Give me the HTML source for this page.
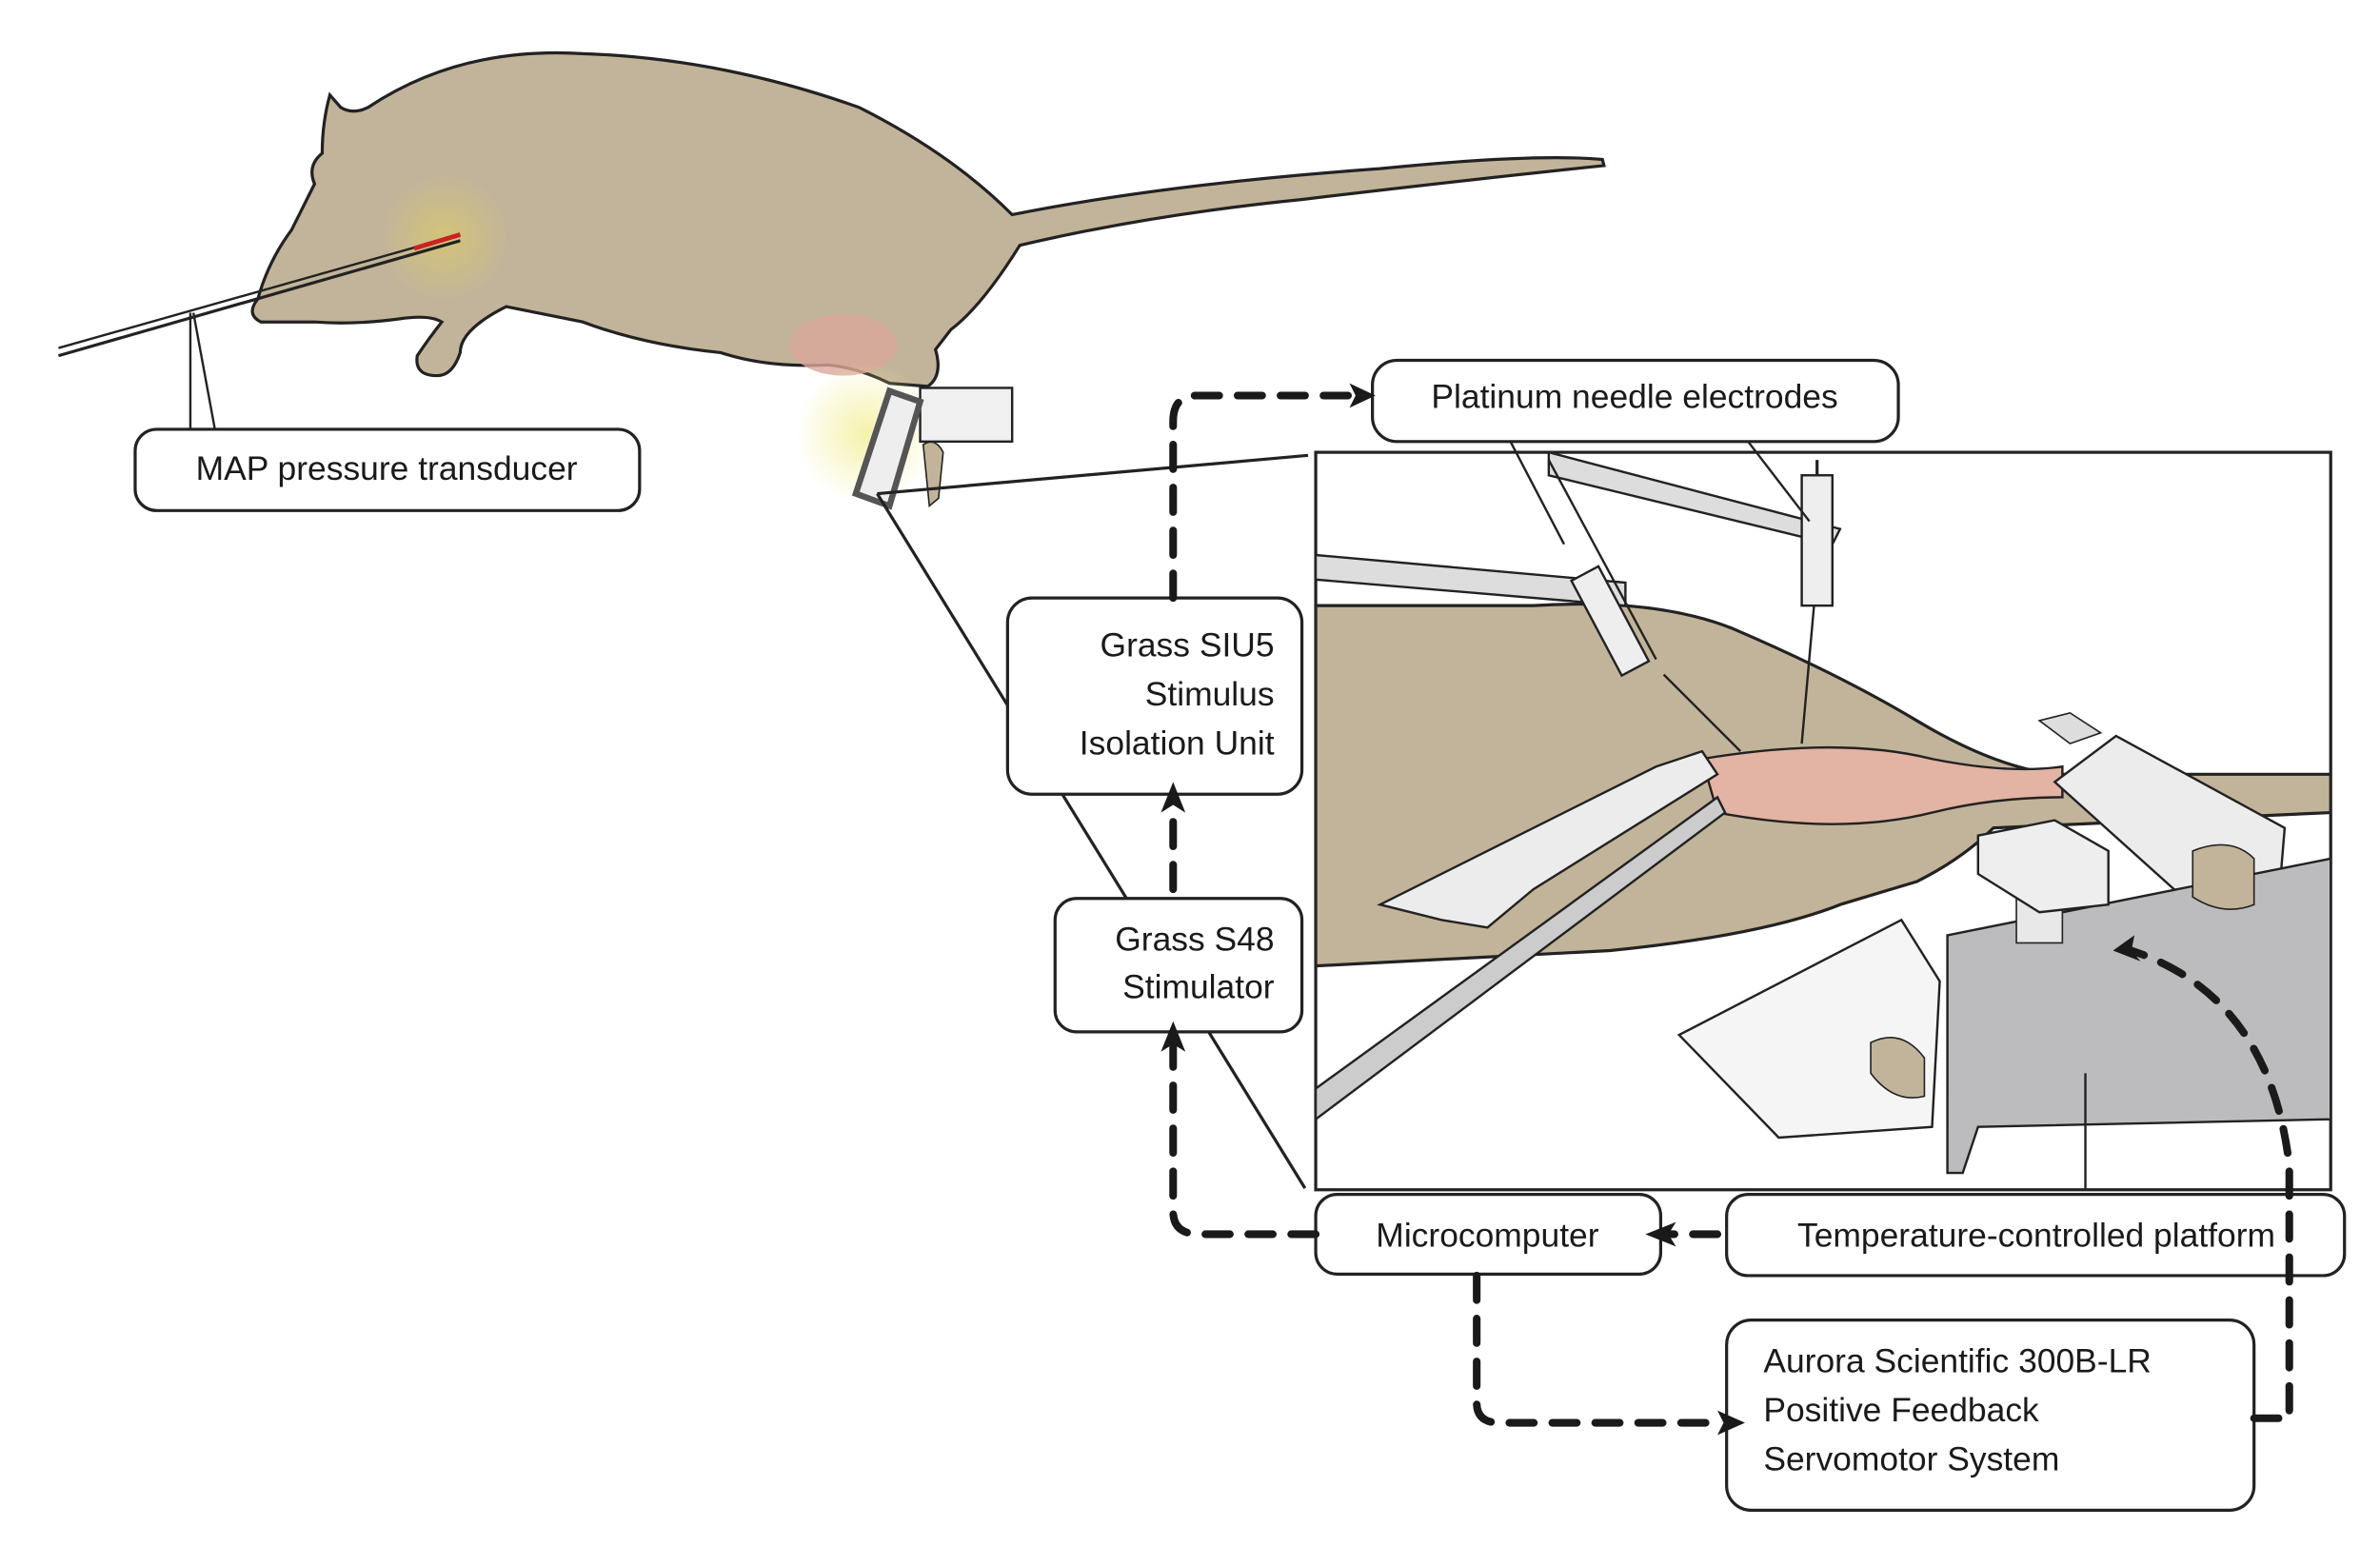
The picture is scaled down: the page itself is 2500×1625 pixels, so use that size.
<!DOCTYPE html>
<html><head><style>
html,body{margin:0;padding:0;background:#fff;}
svg{display:block;}
text{font-family:"Liberation Sans",sans-serif;font-size:22px;fill:#1a1a1a;}
</style></head><body>
<svg width="2500" height="1625" viewBox="0 0 1552 1009" xmlns="http://www.w3.org/2000/svg">
<defs>
<radialGradient id="glow"><stop offset="0" stop-color="#f4f0a0" stop-opacity="0.9"/><stop offset="1" stop-color="#f4f0a0" stop-opacity="0"/></radialGradient>
<radialGradient id="glow2"><stop offset="0" stop-color="#d8c870" stop-opacity="0.8"/><stop offset="1" stop-color="#d8c870" stop-opacity="0"/></radialGradient>
<clipPath id="inset"><rect x="858" y="295" width="662" height="481"/></clipPath>
</defs>
<!-- rat -->
<path d="M215 62 L222 70 Q230 75 240 70 Q300 30 380 35 Q470 38 560 70 Q620 100 660 140 Q760 120 900 110 Q1000 100 1045 104 L1046 108 Q950 118 850 130 Q750 140 665 160 Q640 200 620 215 L610 228 Q615 245 605 252 L580 250 Q560 240 540 238 Q500 240 470 230 Q420 225 380 210 L330 200 Q300 215 300 230 Q295 245 285 245 Q270 245 272 232 Q280 220 288 210 Q280 205 260 208 Q230 212 205 210 L170 210 Q160 205 168 195 Q175 170 190 150 L205 120 Q200 108 210 100 Q210 80 215 62Z" fill="#c2b49a" stroke="#222" stroke-width="2"/>
<circle cx="290" cy="155" r="42" fill="url(#glow2)"/>
<ellipse cx="550" cy="225" rx="35" ry="20" fill="#dba79a" opacity="0.8"/>
<line x1="38" y1="232" x2="300" y2="157" stroke="#222" stroke-width="2"/>
<line x1="38" y1="227" x2="300" y2="153" stroke="#222" stroke-width="1.5"/>
<line x1="270" y1="162" x2="300" y2="153" stroke="#c22" stroke-width="3"/>
<polyline points="124,204 124,280" stroke="#222" stroke-width="1.5" fill="none"/>
<polyline points="126,204 140,280" stroke="#222" stroke-width="1.5" fill="none"/>
<!-- leg clamp -->
<circle cx="565" cy="283" r="46" fill="url(#glow)"/>
<rect x="600" y="253" width="60" height="35" fill="#f0f0f0" stroke="#222" stroke-width="1.5"/>
<polygon points="580,255 600,262 580,330 558,322" fill="#eee" stroke="#555" stroke-width="4"/>
<path d="M602 290 Q610 285 615 295 L612 325 L606 330Z" fill="#c2b49a" stroke="#222" stroke-width="1"/>
<!-- lines to inset -->
<line x1="572" y1="322" x2="853" y2="297" stroke="#222" stroke-width="2"/>
<line x1="572" y1="322" x2="851" y2="775" stroke="#222" stroke-width="2"/>
<!-- inset -->
<rect x="858" y="295" width="662" height="481" fill="#fff" stroke="#222" stroke-width="2"/>
<g clip-path="url(#inset)">
<path d="M858 395 L1000 395 Q1080 390 1130 410 Q1200 440 1250 470 Q1300 500 1340 505 L1520 505 L1520 530 L1300 540 Q1280 560 1250 575 L1200 590 Q1150 610 1050 620 L858 630Z" fill="#c2b49a" stroke="#222" stroke-width="2"/>
<path d="M1110 495 Q1200 480 1260 495 Q1310 505 1345 500 L1345 520 Q1300 520 1260 530 Q1200 545 1120 530Z" fill="#e3b3a3" stroke="#222" stroke-width="1.5"/>
<polygon points="900,590 1080,500 1110,490 1120,505 1000,580 970,605 940,600" fill="#ececec" stroke="#222" stroke-width="1.5"/>
<polygon points="858,710 1120,520 1125,530 858,730" fill="#ccc" stroke="#222" stroke-width="1.5"/>
<polygon points="858,362 1060,380 1060,395 858,378" fill="#ddd" stroke="#222" stroke-width="1.5"/>
<polygon points="1010,295 1200,345 1195,355 1010,310" fill="#ddd" stroke="#222" stroke-width="1.5"/>
<polygon points="1340,510 1380,480 1490,540 1485,600 1440,600" fill="#ececec" stroke="#222" stroke-width="1.5"/>
<polygon points="1330,470 1350,465 1370,478 1350,485" fill="#ddd" stroke="#222"/>
<polygon points="1270,610 1520,560 1520,730 1290,735 1280,765 1270,765" fill="#bcbcbe" stroke="#222" stroke-width="1.5"/>
<rect x="1315" y="545" width="30" height="70" fill="#e8e8e8" stroke="#222"/>
<polygon points="1290,545 1340,535 1375,555 1375,590 1330,595 1290,570" fill="#eee" stroke="#222" stroke-width="1.5"/>
<polygon points="1095,675 1240,600 1265,640 1260,735 1160,742" fill="#f5f5f5" stroke="#222" stroke-width="1.5"/>
<path d="M1220 680 Q1240 670 1255 690 L1255 715 Q1235 720 1220 700Z" fill="#c2b49a" stroke="#222"/>
<path d="M1430 555 Q1455 545 1470 560 L1470 590 Q1450 598 1430 585Z" fill="#c2b49a" stroke="#222"/>
<line x1="1010" y1="300" x2="1080" y2="430" stroke="#222" stroke-width="1.5"/>
<rect x="1040" y="370" width="20" height="70" transform="rotate(-28 1050 405)" fill="#eee" stroke="#222" stroke-width="1.5"/>
<line x1="1085" y1="440" x2="1135" y2="490" stroke="#222" stroke-width="1.5"/>
<rect x="1175" y="310" width="20" height="85" fill="#eee" stroke="#222" stroke-width="1.5"/>
<line x1="1185" y1="300" x2="1185" y2="310" stroke="#222" stroke-width="2"/>
<line x1="1183" y1="395" x2="1175" y2="485" stroke="#222" stroke-width="1.5"/>
</g>
<line x1="985" y1="288" x2="1020" y2="355" stroke="#222" stroke-width="1.5"/>
<line x1="1140" y1="288" x2="1180" y2="340" stroke="#222" stroke-width="1.5"/>
<line x1="1360" y1="776" x2="1360" y2="700" stroke="#222" stroke-width="1.5"/>
<!-- boxes -->
<g fill="#fff" stroke="#222" stroke-width="2">
<rect x="88" y="280" width="329" height="53" rx="14"/>
<rect x="895" y="235" width="343" height="53" rx="16"/>
<rect x="657" y="390" width="192" height="128" rx="16"/>
<rect x="688" y="586" width="161" height="87" rx="14"/>
<rect x="858" y="779" width="225" height="52" rx="14"/>
<rect x="1126" y="779" width="403" height="53" rx="14"/>
<rect x="1126" y="861" width="344" height="124" rx="16"/>
</g>
<text x="252" y="313" text-anchor="middle">MAP pressure transducer</text>
<text x="1066" y="266" text-anchor="middle">Platinum needle electrodes</text>
<text x="831" y="428" text-anchor="end">Grass SIU5</text>
<text x="831" y="460" text-anchor="end">Stimulus</text>
<text x="831" y="492" text-anchor="end">Isolation Unit</text>
<text x="831" y="620" text-anchor="end">Grass S48</text>
<text x="831" y="651" text-anchor="end">Stimulator</text>
<text x="970" y="813" text-anchor="middle">Microcomputer</text>
<text x="1328" y="813" text-anchor="middle">Temperature-controlled platform</text>
<text x="1150" y="895">Aurora Scientific 300B-LR</text>
<text x="1150" y="927">Positive Feedback</text>
<text x="1150" y="959">Servomotor System</text>
<!-- dashed connectors -->
<g fill="none" stroke="#1a1a1a" stroke-width="5" stroke-dasharray="16,12" stroke-linecap="round">
<path d="M765 390 L765 275 Q765 258 780 258 L880 258"/>
<path d="M765 580 L765 530"/>
<path d="M858 805 L782 805 Q765 805 765 790 L765 680"/>
<path d="M1120 805 L1085 805"/>
<path d="M963 832 L963 915 Q963 928 978 928 L1120 928"/>
<path d="M1470 925 L1493 925 L1493 760 Q1480 650 1390 620"/>
</g>
<g fill="#1a1a1a">
<polygon points="880,250 897,258 880,266 884,258"/>
<polygon points="757,530 765,510 773,530 765,525"/>
<polygon points="757,686 765,666 773,686 765,681"/>
<polygon points="1093,797 1073,805 1093,813 1088,805"/>
<polygon points="1120,920 1138,928 1120,936 1124,928"/>
<polygon points="1392,610 1378,620 1396,627 1390,620"/>
</g>
</svg>
</body></html>
